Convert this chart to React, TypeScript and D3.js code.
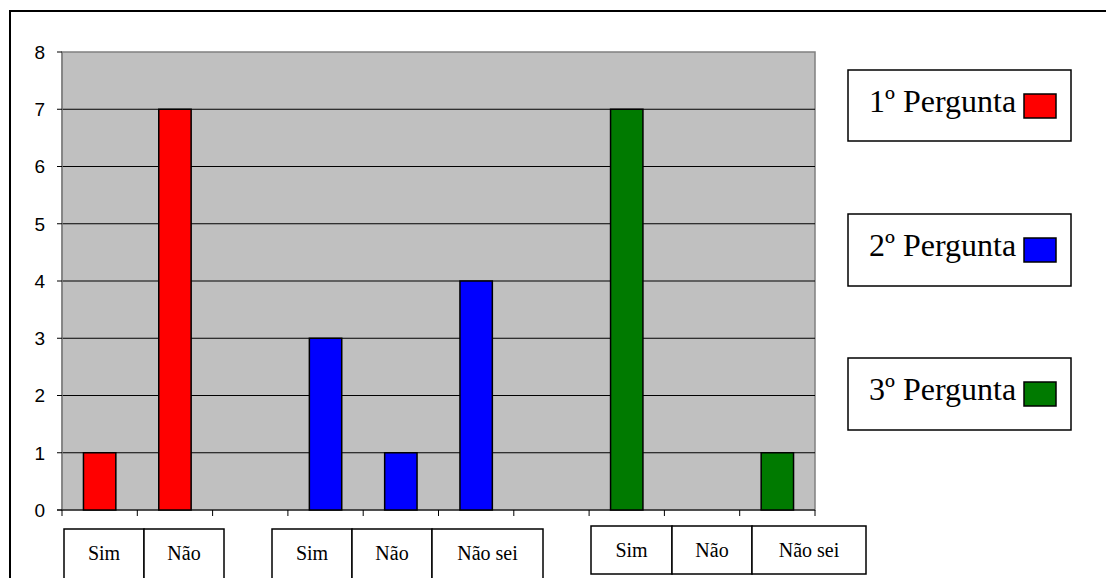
import React from "react";
import * as d3 from "d3";

// Survey answers, one group per question
const questions = ["1º Pergunta", "2º Pergunta", "3º Pergunta"];
const questionColors = ["#ff0000", "#0000ff", "#007a00"];
const answers1 = ["Sim", "Não"];
const values1 = [1, 7];
const answers2 = ["Sim", "Não", "Não sei"];
const values2 = [3, 1, 4];
const answers3 = ["Sim", "Não", "Não sei"];
const values3 = [7, 0, 1];
const yTicks = [0, 1, 2, 3, 4, 5, 6, 7, 8];

const groups = [
  { answers: answers1, values: values1 },
  { answers: answers2, values: values2 },
  { answers: answers3, values: values3 },
];

// Flatten the groups into category slots, with an empty slot between groups
type Slot = { key: string; value: number | null; group: number };
const slots: Slot[] = [];
groups.forEach((g, gi) => {
  if (gi > 0) slots.push({ key: `gap${gi}`, value: null, group: -1 });
  g.answers.forEach((a, ai) => slots.push({ key: `${gi}-${a}`, value: g.values[ai], group: gi }));
});

const W = 1106;
const H = 578;
const plot = { left: 62, right: 815, top: 52, bottom: 510 };

const SERIF = "'Liberation Serif', 'Times New Roman', Times, serif";
const SANS = "'Liberation Sans', Arial, sans-serif";

// Answer tables drawn under the axis
const tables = [
  { x: 64, y: 529, h: 52, widths: [80, 80] },
  { x: 272, y: 529, h: 52, widths: [80, 80, 111] },
  { x: 591, y: 526, h: 48, widths: [81, 80, 114] },
];

// Legend boxes on the right
const legendBoxes = [
  { y: 70, h: 71 },
  { y: 214, h: 72 },
  { y: 358, h: 72 },
];

export default function App() {
  const x = d3
    .scaleBand<string>()
    .domain(slots.map((s) => s.key))
    .range([plot.left, plot.right])
    .paddingInner(0)
    .paddingOuter(0);
  const y = d3.scaleLinear().domain([0, 8]).range([plot.bottom, plot.top]);
  const bw = x.bandwidth() * 0.43;
  const boundaries = slots.map((s) => x(s.key)!).concat([plot.right]);

  return (
    <svg
      width={W}
      height={H}
      style={{ position: "absolute", left: 0, top: 0, background: "#fff" }}
    >
      {/* outer frame */}
      <rect x={10} y={11} width={1200} height={700} fill="none" stroke="#000" strokeWidth={2} />

      {/* plot area */}
      <rect
        x={plot.left}
        y={plot.top}
        width={plot.right - plot.left}
        height={plot.bottom - plot.top}
        fill="#c0c0c0"
        stroke="#808080"
        strokeWidth={1.5}
      />
      {yTicks.slice(1, -1).map((t) => (
        <line key={`g${t}`} x1={plot.left} x2={plot.right} y1={y(t)} y2={y(t)} stroke="#000" strokeWidth={1} />
      ))}

      {/* y axis */}
      <line x1={plot.left} x2={plot.left} y1={plot.top} y2={plot.bottom} stroke="#808080" strokeWidth={1.5} />
      {yTicks.map((t) => (
        <g key={`y${t}`}>
          <line x1={plot.left - 5} x2={plot.left} y1={y(t)} y2={y(t)} stroke="#000" strokeWidth={1} />
          <text
            x={45}
            y={y(t)}
            dy="0.36em"
            textAnchor="end"
            fontFamily={SANS}
            fontSize={19}
            fill="#000"
          >
            {t}
          </text>
        </g>
      ))}

      {/* x axis */}
      <line x1={plot.left - 5} x2={plot.right} y1={plot.bottom} y2={plot.bottom} stroke="#000" strokeWidth={1.2} />
      {boundaries.map((bx, i) => (
        <line key={`xt${i}`} x1={bx} x2={bx} y1={plot.bottom} y2={plot.bottom + 6} stroke="#000" strokeWidth={1} />
      ))}

      {/* bars */}
      {slots
        .filter((s) => s.value !== null && s.value! > 0)
        .map((s) => (
          <rect
            key={s.key}
            x={x(s.key)! + (x.bandwidth() - bw) / 2}
            y={y(s.value!)}
            width={bw}
            height={y(0) - y(s.value!)}
            fill={questionColors[s.group]}
            stroke="#000"
            strokeWidth={1.5}
          />
        ))}

      {/* answer tables */}
      {tables.map((t, ti) => {
        let cx = t.x;
        return (
          <g key={`t${ti}`}>
            {t.widths.map((w, ci) => {
              const cell = (
                <g key={ci}>
                  <rect x={cx} y={t.y} width={w} height={t.h} fill="#fff" stroke="#000" strokeWidth={1.5} />
                  <text
                    x={cx + w / 2}
                    y={t.y + 24}
                    dy="0.35em"
                    textAnchor="middle"
                    style={{ fontFamily: SERIF }}
                    fontSize={20}
                    fill="#000"
                  >
                    {groups[ti].answers[ci]}
                  </text>
                </g>
              );
              cx += w;
              return cell;
            })}
          </g>
        );
      })}

      {/* legend */}
      {legendBoxes.map((b, i) => (
        <g key={`l${i}`}>
          <rect x={848} y={b.y} width={223} height={b.h} fill="#fff" stroke="#000" strokeWidth={1.5} />
          <text
            x={869}
            y={b.y + 42}
            style={{ fontFamily: SERIF }}
            fontSize={32}
            fill="#000"
          >
            {questions[i]}
          </text>
          <rect
            x={1024}
            y={b.y + 24}
            width={32}
            height={24}
            fill={questionColors[i]}
            stroke="#000"
            strokeWidth={1.5}
          />
        </g>
      ))}
    </svg>
  );
}
